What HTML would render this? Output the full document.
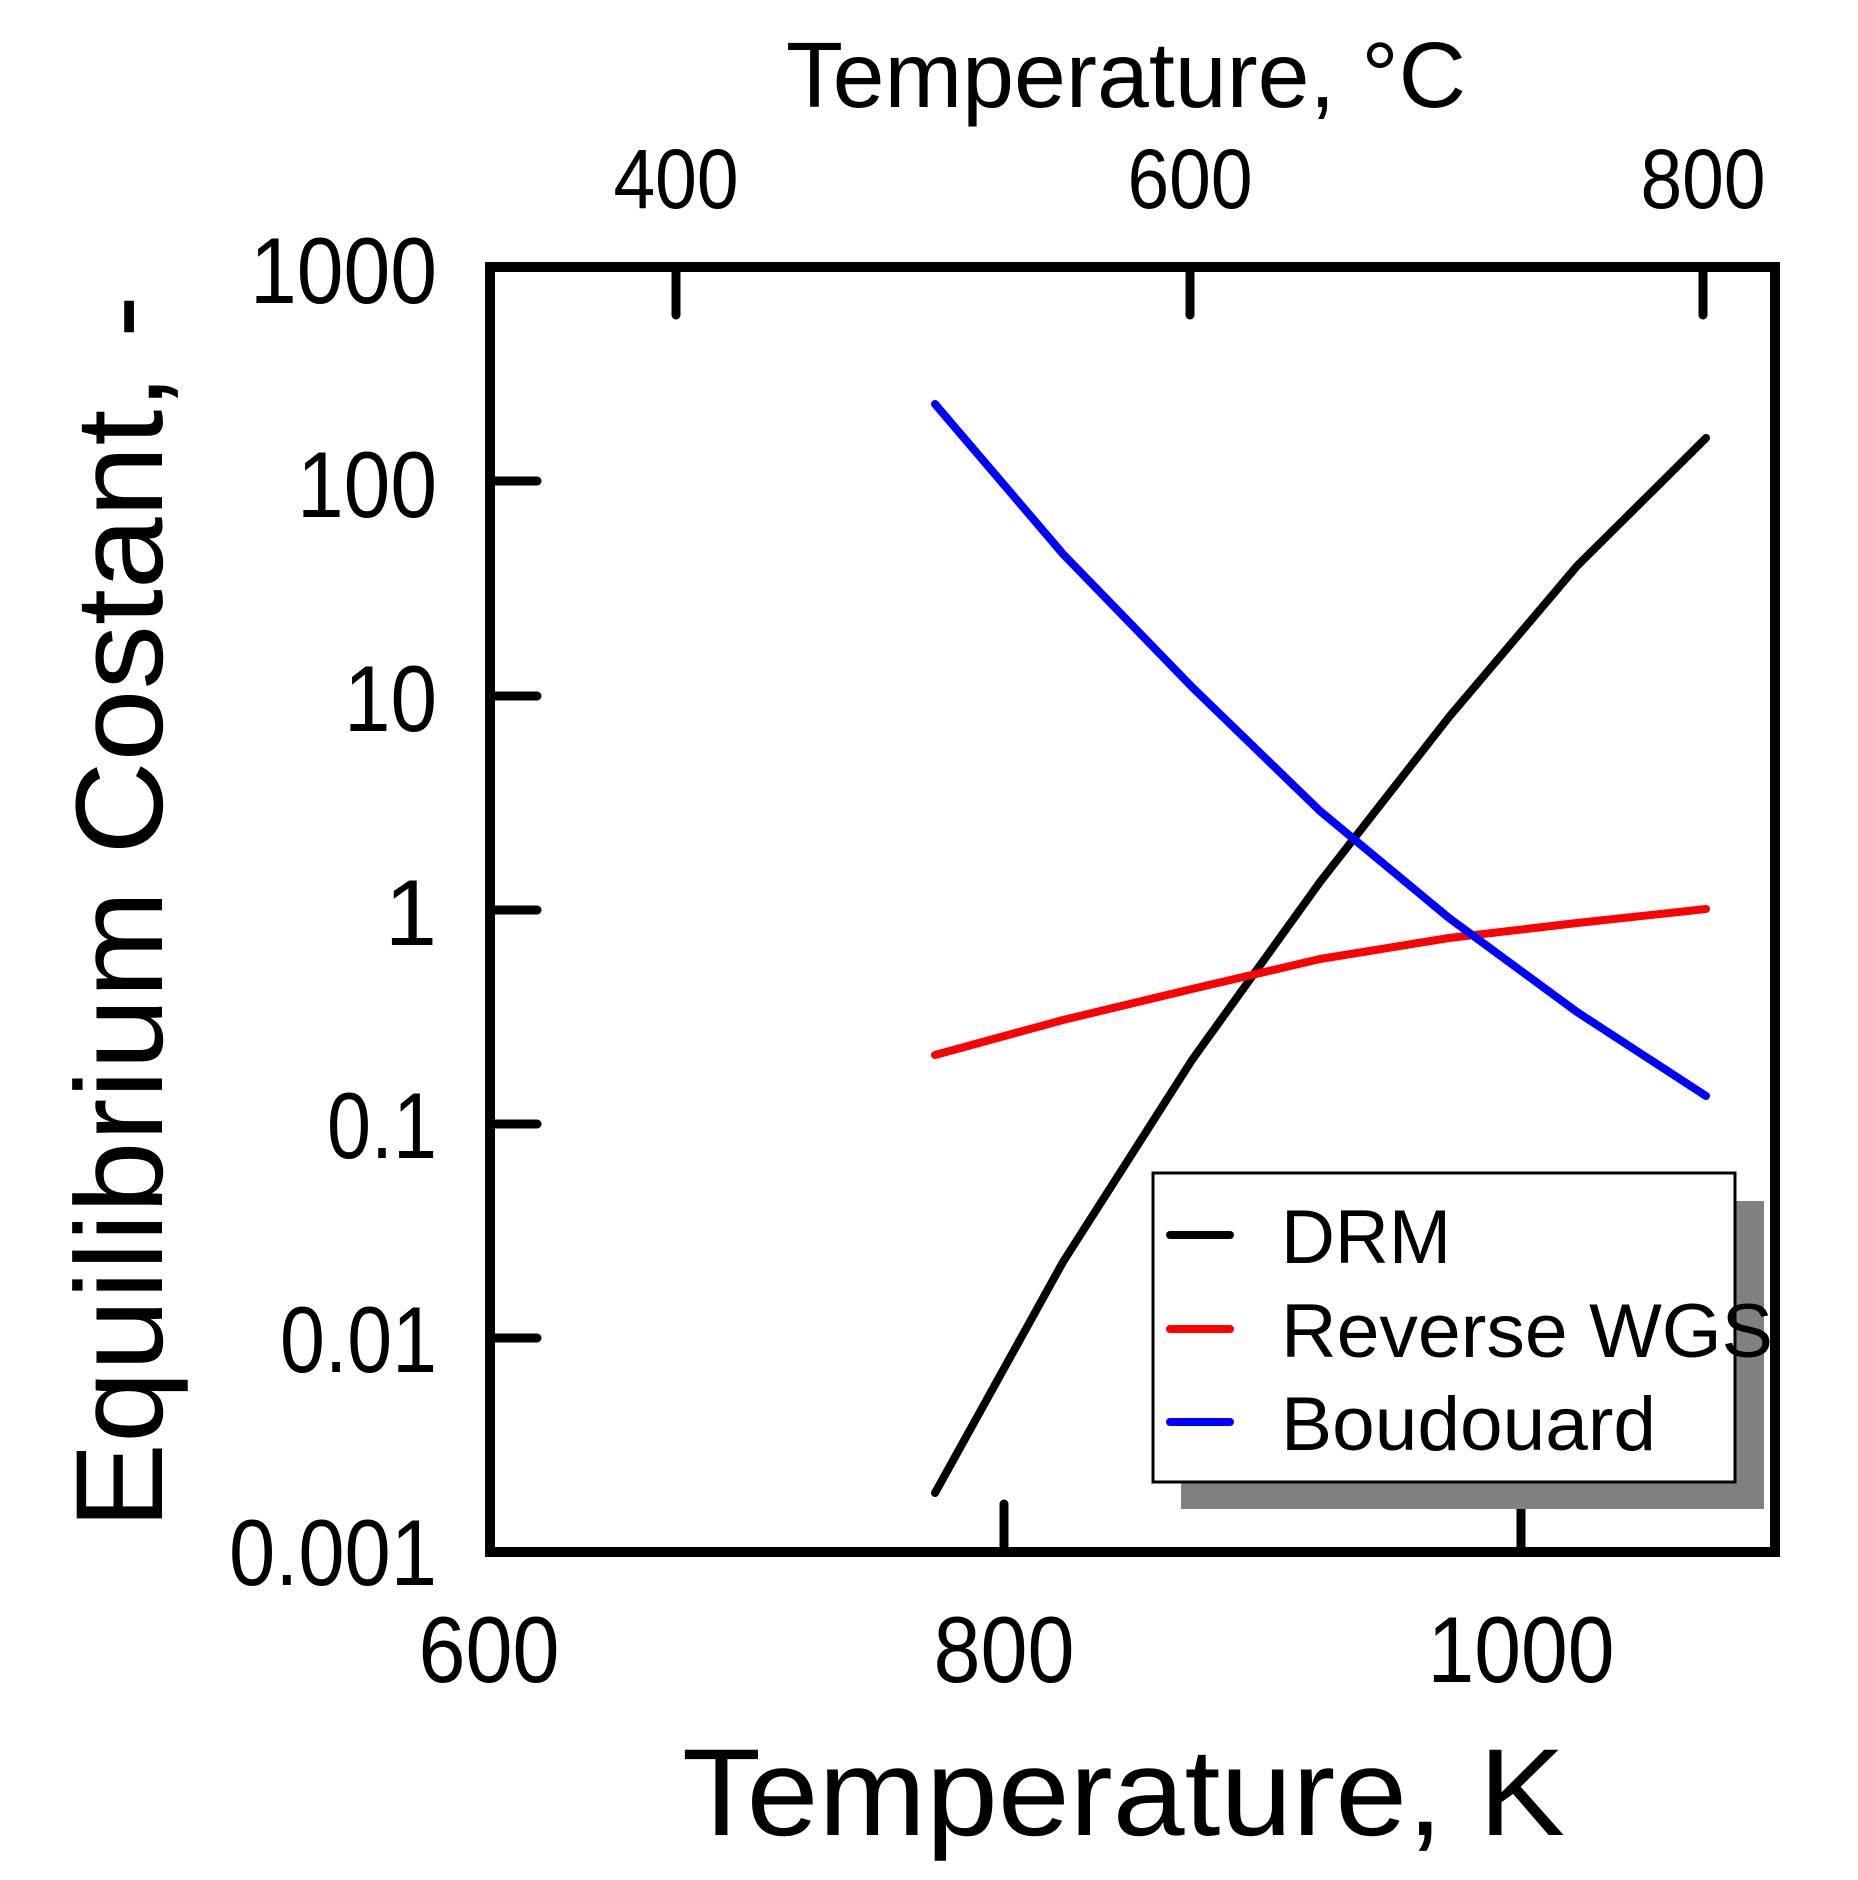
<!DOCTYPE html>
<html><head><meta charset="utf-8"><style>
html,body{margin:0;padding:0;background:#fff;}
svg{display:block;}
text{font-family:"Liberation Sans",sans-serif;fill:#000;}
</style></head><body>
<svg width="1858" height="1880" viewBox="0 0 1858 1880" xmlns="http://www.w3.org/2000/svg">
<text x="786" y="107" font-size="93" textLength="680" lengthAdjust="spacingAndGlyphs">Temperature, °C</text>
<text x="682" y="1835" font-size="124" textLength="883" lengthAdjust="spacingAndGlyphs">Temperature, K</text>
<text transform="translate(162,1529) rotate(-90)" font-size="124" textLength="1234" lengthAdjust="spacingAndGlyphs">Equilibrium Costant, -</text>

<g font-size="84" text-anchor="middle">
<text x="676" y="208" textLength="125" lengthAdjust="spacingAndGlyphs">400</text>
<text x="1190" y="208" textLength="125" lengthAdjust="spacingAndGlyphs">600</text>
<text x="1703" y="208" textLength="125" lengthAdjust="spacingAndGlyphs">800</text>
</g>
<g font-size="94" text-anchor="middle">
<text x="489" y="1682" textLength="141" lengthAdjust="spacingAndGlyphs">600</text>
<text x="1004" y="1682" textLength="141" lengthAdjust="spacingAndGlyphs">800</text>
<text x="1521" y="1682" textLength="187" lengthAdjust="spacingAndGlyphs">1000</text>
</g>
<g font-size="94" text-anchor="end">
<text x="437" y="303" textLength="187" lengthAdjust="spacingAndGlyphs">1000</text>
<text x="437" y="517" textLength="140" lengthAdjust="spacingAndGlyphs">100</text>
<text x="437" y="731" textLength="93" lengthAdjust="spacingAndGlyphs">10</text>
<text x="437" y="945">1</text>
<text x="437" y="1158" textLength="110" lengthAdjust="spacingAndGlyphs">0.1</text>
<text x="437" y="1372" textLength="157" lengthAdjust="spacingAndGlyphs">0.01</text>
<text x="437" y="1585" textLength="208" lengthAdjust="spacingAndGlyphs">0.001</text>
</g>

<g stroke="#000" stroke-width="9" stroke-linecap="round">
<line x1="490" y1="481" x2="537" y2="481"/>
<line x1="490" y1="696" x2="537" y2="696"/>
<line x1="490" y1="910" x2="537" y2="910"/>
<line x1="490" y1="1124" x2="537" y2="1124"/>
<line x1="490" y1="1338" x2="537" y2="1338"/>
<line x1="676" y1="267" x2="676" y2="315"/>
<line x1="1190" y1="267" x2="1190" y2="315"/>
<line x1="1703" y1="267" x2="1703" y2="315"/>
<line x1="1004" y1="1552" x2="1004" y2="1504"/>
<line x1="1521" y1="1552" x2="1521" y2="1504"/>
</g>

<g fill="none" stroke-width="8" stroke-linejoin="round" stroke-linecap="round">
<polyline stroke="#000" points="935,1493 1063,1262 1192,1060 1320,882 1449,717 1577,566 1706,438"/>
<polyline stroke="#f00" points="935,1055 1063,1020 1192,989 1320,959 1449,938 1577,923 1706,909"/>
<polyline stroke="#00f" points="935,404 1063,554 1192,687 1320,811 1449,918 1577,1012 1706,1096"/>
</g>

<rect x="490" y="267" width="1285" height="1285" fill="none" stroke="#000" stroke-width="10"/>

<rect x="1181" y="1201" width="583" height="308" fill="#808080"/>
<rect x="1153" y="1173" width="582" height="309" fill="#fff" stroke="#000" stroke-width="3"/>
<g stroke-width="8" stroke-linecap="round">
<line x1="1170" y1="1235" x2="1230" y2="1235" stroke="#000"/>
<line x1="1170" y1="1329" x2="1230" y2="1329" stroke="#f00"/>
<line x1="1170" y1="1422" x2="1230" y2="1422" stroke="#00f"/>
</g>
<g font-size="76">
<text x="1281" y="1263" textLength="170" lengthAdjust="spacingAndGlyphs">DRM</text>
<text x="1281" y="1357" textLength="492" lengthAdjust="spacingAndGlyphs">Reverse WGS</text>
<text x="1281" y="1450" textLength="375" lengthAdjust="spacingAndGlyphs">Boudouard</text>
</g>
</svg>
</body></html>
